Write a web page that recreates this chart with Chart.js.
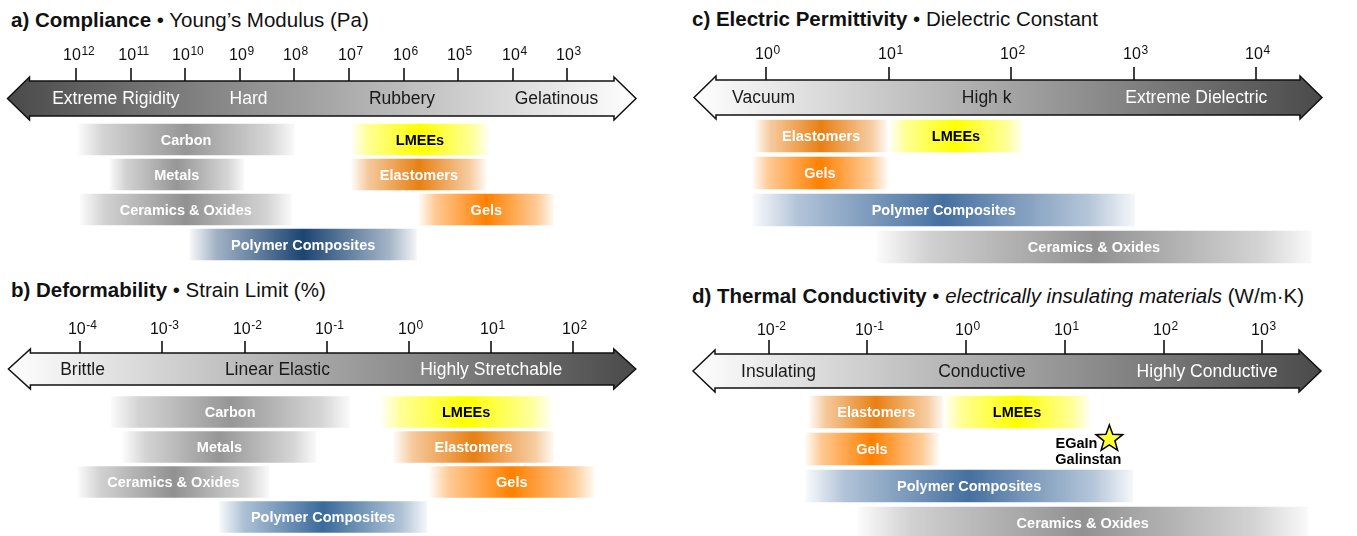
<!DOCTYPE html>
<html>
<head>
<meta charset="utf-8">
<script src="https://cdn.jsdelivr.net/npm/chart.js@4.4.1/dist/chart.umd.min.js"></script>
<style>
  html, body { margin: 0; padding: 0; background: #fff; width: 1357px; height: 536px; overflow: hidden; }
  body { position: relative; font-family: "Liberation Sans", Arial, Helvetica, sans-serif; }
  .title { position: absolute; font-size: 20.5px; line-height: 1; color: #111; white-space: nowrap; }
  .title b { font-weight: bold; }
  canvas { position: absolute; }
</style>
</head>
<body>
<div class="title" style="left:11px;top:10px"><b>a) Compliance</b> • Young’s Modulus (Pa)</div>
<div class="title" style="left:11px;top:280px"><b>b) Deformability</b> • Strain Limit (%)</div>
<div class="title" style="left:692px;top:9px"><b>c) Electric Permittivity</b> • Dielectric Constant</div>
<div class="title" style="left:692px;top:286px"><b>d) Thermal Conductivity</b> • <i>electrically insulating materials</i> (W/m·K)</div>

<canvas id="chartA" width="678" height="268" style="left:0;top:0"></canvas>
<canvas id="chartB" width="678" height="268" style="left:0;top:268px"></canvas>
<canvas id="chartC" width="679" height="268" style="left:678px;top:0"></canvas>
<canvas id="chartD" width="679" height="276" style="left:678px;top:268px"></canvas>

<script>
const FONT = '"Liberation Sans", Arial, Helvetica, sans-serif';

// a) Young's modulus, exponents of 10 (Pa)
const compTicks = [12, 11, 10, 9, 8, 7, 6, 5, 4, 3];
const compZones = ['Extreme Rigidity', 'Hard', 'Rubbery', 'Gelatinous'];
const compZoneAt = [11.27, 8.84, 6.03, 3.2];
const compMaterials = ['Carbon', 'Metals', 'Ceramics & Oxides', 'Polymer Composites', 'LMEEs', 'Elastomers', 'Gels'];
const compRows = [0, 1, 2, 3, 0, 1, 2];
const compLow = [8.0, 8.92, 8.05, 5.76, 4.45, 4.49, 3.25];
const compHigh = [11.97, 11.39, 11.93, 9.92, 6.95, 6.95, 5.72];

// b) strain limit, exponents of 10 (%)
const strainTicks = [-4, -3, -2, -1, 0, 1, 2];
const strainZones = ['Brittle', 'Linear Elastic', 'Highly Stretchable'];
const strainZoneAt = [-3.97, -1.6, 1.0];
const strainMaterials = ['Carbon', 'Metals', 'Ceramics & Oxides', 'Polymer Composites', 'LMEEs', 'Elastomers', 'Gels'];
const strainRows = [0, 1, 2, 3, 0, 1, 2];
const strainLow = [-3.63, -3.48, -4.03, -2.31, -0.34, -0.19, 0.25];
const strainHigh = [-0.72, -1.13, -1.70, 0.22, 1.73, 1.76, 2.25];

// c) dielectric constant, exponents of 10
const permTicks = [0, 1, 2, 3, 4];
const permZones = ['Vacuum', 'High k', 'Extreme Dielectric'];
const permZoneAt = [-0.02, 1.8, 3.51];
const permMaterials = ['Elastomers', 'LMEEs', 'Gels', 'Polymer Composites', 'Ceramics & Oxides'];
const permRows = [0, 0, 1, 2, 3];
const permLow = [-0.09, 1.01, -0.11, -0.11, 0.9];
const permHigh = [0.99, 2.09, 0.99, 3.01, 4.45];

// d) thermal conductivity, exponents of 10 (W/m·K)
const thermTicks = [-2, -1, 0, 1, 2, 3];
const thermZones = ['Insulating', 'Conductive', 'Highly Conductive'];
const thermZoneAt = [-1.9, 0.16, 2.44];
const thermMaterials = ['Elastomers', 'LMEEs', 'Gels', 'Polymer Composites', 'Ceramics & Oxides'];
const thermRows = [0, 0, 1, 2, 3];
const thermLow = [-1.59, -0.22, -1.63, -1.63, -1.1];
const thermHigh = [-0.23, 1.25, -0.28, 1.69, 3.46];
const liquidMetalAt = 1.45;
const liquidMetalRow = 1;

const rowLabels = ['r0', 'r1', 'r2', 'r3'];

// material colours (peak of each gradient)
const GRAY = [150, 150, 150];
const matStyle = {
  'Carbon': { rgb: GRAY, text: '#fff' },
  'Metals': { rgb: GRAY, text: '#fff' },
  'Ceramics & Oxides': { rgb: [145, 145, 145], text: '#fff' },
  'Polymer Composites': { rgb: [70, 112, 160], text: '#fff' },
  'LMEEs': { rgb: [255, 255, 0], text: '#000' },
  'Elastomers': { rgb: [232, 128, 20], text: '#fff' },
  'Gels': { rgb: [255, 128, 0], text: '#fff' }
};

function barFill(chart, lo, hi, rgb) {
  const xs = chart.scales.x;
  const a = xs.getPixelForValue(lo), b = xs.getPixelForValue(hi);
  const g = chart.ctx.createLinearGradient(Math.min(a, b), 0, Math.max(a, b), 0);
  const c = rgb.join(',');
  [[0, 0.03], [0.12, 0.42], [0.5, 1], [0.88, 0.4], [1, 0.05]]
    .forEach(([s, al]) => g.addColorStop(s, `rgba(${c},${al})`));
  return g;
}

// draws the double arrow, decade ticks, zone names, bar names and the star
const arrowPlugin = {
  id: 'logArrow',
  beforeDatasetsDraw(chart, args, o) {
    const ctx = chart.ctx, area = chart.chartArea, xs = chart.scales.x;
    const L = area.left, R = area.right, T = o.bodyTop, B = o.bodyBottom;
    const H = 22, F = 4, M = (T + B) / 2;
    ctx.save();
    const g = ctx.createLinearGradient(L, 0, R, 0);
    g.addColorStop(0, o.fromColor);
    g.addColorStop(1, o.toColor);
    ctx.beginPath();
    ctx.moveTo(L, M);
    ctx.lineTo(L + H, T - F); ctx.lineTo(L + H, T); ctx.lineTo(R - H, T); ctx.lineTo(R - H, T - F);
    ctx.lineTo(R, M);
    ctx.lineTo(R - H, B + F); ctx.lineTo(R - H, B); ctx.lineTo(L + H, B); ctx.lineTo(L + H, B + F);
    ctx.closePath();
    ctx.fillStyle = g;
    ctx.fill();
    ctx.lineWidth = 1.5;
    ctx.lineJoin = 'miter';
    ctx.strokeStyle = '#111';
    ctx.stroke();

    o.ticks.forEach(v => {
      const px = Math.round(xs.getPixelForValue(v));
      ctx.beginPath();
      ctx.moveTo(px, o.tickTop);
      ctx.lineTo(px, T);
      ctx.lineWidth = 1.6;
      ctx.strokeStyle = '#111';
      ctx.stroke();

      const exp = String(v);
      ctx.font = '16px ' + FONT;
      const w1 = ctx.measureText('10').width;
      ctx.font = '12px ' + FONT;
      const w2 = ctx.measureText(exp).width;
      const x0 = px - w1 / 2 - w2 * 0.3;
      ctx.fillStyle = '#111';
      ctx.textAlign = 'left';
      ctx.textBaseline = 'alphabetic';
      ctx.font = '16px ' + FONT;
      ctx.fillText('10', x0, o.labelBase);
      ctx.font = '12px ' + FONT;
      ctx.fillText(exp, x0 + w1 + 0.5, o.labelBase - 5);
    });

    ctx.font = '17.5px ' + FONT;
    ctx.textAlign = 'center';
    ctx.textBaseline = 'middle';
    o.zones.forEach((z, i) => {
      ctx.fillStyle = o.zoneColors[i];
      ctx.fillText(z, xs.getPixelForValue(o.zoneAt[i]), M + 1);
    });
    ctx.restore();
  },
  afterDatasetsDraw(chart, args, o) {
    const ctx = chart.ctx;
    const meta = chart.getDatasetMeta(0);
    ctx.save();
    ctx.font = 'bold 14.5px ' + FONT;
    ctx.textAlign = 'center';
    ctx.textBaseline = 'middle';
    meta.data.forEach((bar, i) => {
      const p = bar.getProps(['x', 'base', 'y'], true);
      const name = o.names[i];
      ctx.fillStyle = matStyle[name].text;
      ctx.fillText(name, (p.x + p.base) / 2, p.y + 1);
    });
    if (o.star) {
      const sx = chart.scales.x.getPixelForValue(o.star.at);
      const sy = chart.scales.y.getPixelForValue(o.star.row) - 10;
      ctx.beginPath();
      for (let k = 0; k < 10; k++) {
        const ang = -Math.PI / 2 + k * Math.PI / 5;
        const r = k % 2 === 0 ? 14 : 5.8;
        const px = sx + r * Math.cos(ang), py = sy + r * Math.sin(ang);
        if (k === 0) ctx.moveTo(px, py); else ctx.lineTo(px, py);
      }
      ctx.closePath();
      ctx.fillStyle = '#ffff33';
      ctx.fill();
      ctx.lineWidth = 1.5;
      ctx.strokeStyle = '#000';
      ctx.stroke();
      ctx.fillStyle = '#000';
      ctx.textAlign = 'right';
      ctx.fillText('EGaIn', sx - 12, sy + 5);
      ctx.fillText('Galinstan', sx + 12, sy + 21);
    }
    ctx.restore();
  }
};

function makePanel(id, p) {
  const data = p.materials.map((m, i) => ({ x: [p.low[i], p.high[i]], y: rowLabels[p.rows[i]] }));
  const chart = new Chart(document.getElementById(id), {
    type: 'bar',
    data: {
      labels: rowLabels,
      datasets: [{
        data: data,
        borderWidth: 0,
        borderSkipped: false,
        barPercentage: p.barPct,
        categoryPercentage: 1,
        backgroundColor(c) {
          const ch = c.chart;
          if (!ch.chartArea || c.dataIndex === undefined) return 'rgba(0,0,0,0)';
          const name = p.materials[c.dataIndex];
          const rgb = name === 'Polymer Composites' ? p.polymerRgb : matStyle[name].rgb;
          return barFill(ch, p.low[c.dataIndex], p.high[c.dataIndex], rgb);
        }
      }]
    },
    options: {
      indexAxis: 'y',
      responsive: false,
      animation: false,
      events: [],
      layout: { padding: p.padding },
      scales: {
        x: { type: 'linear', min: p.min, max: p.max, reverse: !!p.reverse, display: false },
        y: { type: 'category', display: false, offset: true }
      },
      plugins: {
        legend: { display: false },
        tooltip: { enabled: false },
        logArrow: {
          bodyTop: p.bodyTop, bodyBottom: p.bodyBottom, tickTop: p.tickTop, labelBase: p.labelBase,
          fromColor: p.fromColor, toColor: p.toColor,
          ticks: p.ticks, zones: p.zones, zoneAt: p.zoneAt, zoneColors: p.zoneColors,
          names: p.materials, star: p.star || null
        }
      }
    },
    plugins: [arrowPlugin]
  });
  chart.update('none');
  return chart;
}

const DARK = '#1a1a1a';

makePanel('chartA', {
  materials: compMaterials, rows: compRows, low: compLow, high: compHigh,
  ticks: compTicks, zones: compZones, zoneAt: compZoneAt,
  zoneColors: ['#fff', '#fff', DARK, DARK],
  min: 1.744, max: 13.255, reverse: true,
  padding: { left: 7.5, right: 42, top: 122, bottom: 6 },
  barPct: 0.9, polymerRgb: [28, 69, 115],
  bodyTop: 81, bodyBottom: 116, tickTop: 68, labelBase: 60,
  fromColor: '#4a4a4a', toColor: '#ffffff'
});

makePanel('chartB', {
  materials: strainMaterials, rows: strainRows, low: strainLow, high: strainHigh,
  ticks: strainTicks, zones: strainZones, zoneAt: strainZoneAt,
  zoneColors: [DARK, DARK, '#fff'],
  min: -4.871, max: 2.758,
  padding: { left: 8.4, right: 42.2, top: 126.5, bottom: 1.5 },
  barPct: 0.9, polymerRgb: [58, 106, 155],
  bodyTop: 85, bodyBottom: 117, tickTop: 73, labelBase: 66,
  fromColor: '#ffffff', toColor: '#4a4a4a'
});

makePanel('chartC', {
  materials: permMaterials, rows: permRows, low: permLow, high: permHigh,
  ticks: permTicks, zones: permZones, zoneAt: permZoneAt,
  zoneColors: [DARK, DARK, '#fff'],
  min: -0.587, max: 4.535,
  padding: { left: 16, right: 35, top: 117.5, bottom: 2.5 },
  barPct: 0.88, polymerRgb: [70, 112, 160],
  bodyTop: 80, bodyBottom: 115, tickTop: 67, labelBase: 59,
  fromColor: '#ffffff', toColor: '#4a4a4a'
});

makePanel('chartD', {
  materials: thermMaterials, rows: thermRows, low: thermLow, high: thermHigh,
  ticks: thermTicks, zones: thermZones, zoneAt: thermZoneAt,
  zoneColors: [DARK, DARK, '#fff'],
  min: -2.766, max: 3.593,
  padding: { left: 15, right: 36, top: 125.5, bottom: 2.5 },
  barPct: 0.88, polymerRgb: [70, 112, 160],
  bodyTop: 86, bodyBottom: 120, tickTop: 72, labelBase: 67,
  fromColor: '#ffffff', toColor: '#4a4a4a',
  star: { at: liquidMetalAt, row: liquidMetalRow }
});
</script>
</body>
</html>
